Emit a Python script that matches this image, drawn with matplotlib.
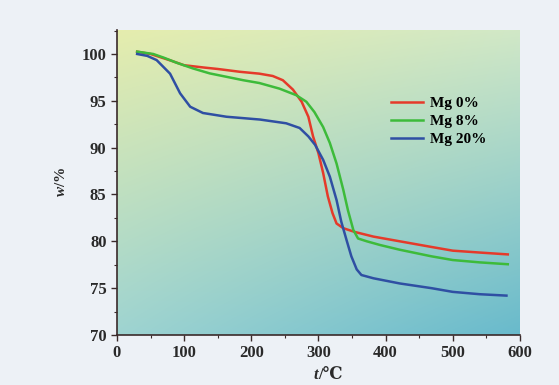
import numpy as np
import matplotlib
matplotlib.use("Agg")
import matplotlib.pyplot as plt
from matplotlib.ticker import MultipleLocator

plt.rcParams['font.family'] = ['Liberation Serif', 'DejaVu Serif']
plt.rcParams['mathtext.fontset'] = 'custom'
plt.rcParams['mathtext.it'] = 'Liberation Serif:italic:bold'
plt.rcParams['mathtext.rm'] = 'Liberation Serif:bold'

# TG curves: temperature (C) vs residual mass (%)
red_t = [30, 50, 80, 100, 130, 150, 183, 212, 232, 247, 262, 275, 285, 292,
         300, 307, 314, 321, 327, 337, 354, 382, 421, 468, 500, 540, 582]
red_w = [100.25, 100.0, 99.3, 98.8, 98.55, 98.4, 98.1, 97.9, 97.65, 97.2, 96.2,
         94.9, 93.3, 91.2, 89.4, 87.3, 84.8, 83.0, 81.9, 81.4, 81.0, 80.5,
         80.0, 79.4, 79.0, 78.8, 78.6]

green_t = [30, 54, 70, 89, 113, 138, 188, 212, 242, 267, 282, 294, 307, 317,
           327, 337, 344, 352, 359, 372, 392, 421, 468, 500, 540, 582]
green_w = [100.25, 100.0, 99.6, 99.06, 98.46, 97.93, 97.2, 96.9, 96.3, 95.6,
           94.9, 93.8, 92.2, 90.5, 88.3, 85.5, 83.3, 81.2, 80.3, 80.0, 79.6,
           79.1, 78.4, 78.0, 77.75, 77.55]

blue_t = [30, 45, 59, 79, 94, 109, 128, 163, 213, 252, 272, 285, 295, 307,
          317, 327, 334, 342, 349, 357, 364, 382, 421, 468, 500, 540, 580]
blue_w = [100.0, 99.8, 99.35, 97.9, 95.8, 94.37, 93.7, 93.3, 93.0, 92.6, 92.1,
          91.2, 90.3, 88.7, 86.9, 84.4, 82.1, 80.1, 78.4, 77.0, 76.4, 76.05,
          75.5, 75.0, 74.6, 74.35, 74.2]

labels = ['Mg 0%', 'Mg 8%', 'Mg 20%']
colors = ['#e53a2a', '#3dbb3a', '#2f4fa3']

fig = plt.figure(figsize=(5.59, 3.85), dpi=100, facecolor='#edf1f6')
ax = fig.add_axes([0.2093, 0.13, 0.7207, 0.793])

xmin, xmax, ymin, ymax = 0, 600, 70, 102.6

# diagonal background gradient (yellow-green top left -> blue bottom right)
tl = np.array([0.90, 0.93, 0.68])
tr = np.array([0.82, 0.91, 0.78])
bl = np.array([0.62, 0.83, 0.82])
br = np.array([0.41, 0.73, 0.80])
u = np.linspace(0, 1, 200)[None, :, None]
v = np.linspace(0, 1, 200)[:, None, None]
grad = (1 - v) * ((1 - u) * tl + u * tr) + v * ((1 - u) * bl + u * br)
ax.imshow(grad, extent=[xmin, xmax, ymin, ymax], aspect='auto',
          interpolation='bilinear', zorder=0)

for t, w, c, lab in zip([red_t, green_t, blue_t], [red_w, green_w, blue_w],
                        colors, labels):
    ax.plot(t, w, color=c, lw=1.8, label=lab, zorder=2)

ax.set_xlim(xmin, xmax)
ax.set_ylim(ymin, ymax)
ax.xaxis.set_major_locator(MultipleLocator(100))
ax.xaxis.set_minor_locator(MultipleLocator(50))
ax.yaxis.set_major_locator(MultipleLocator(5))
ax.yaxis.set_minor_locator(MultipleLocator(2.5))
ax.tick_params(which='major', direction='out', length=4, width=1,
               labelsize=12, colors='#3a2a2a')
ax.tick_params(which='minor', direction='out', length=2.5, width=0.8,
               colors='#3a2a2a')
for lbl in ax.get_xticklabels() + ax.get_yticklabels():
    lbl.set_fontweight('bold')
    lbl.set_color('#2a2a2a')

for s in ['top', 'right']:
    ax.spines[s].set_visible(False)
for s in ['left', 'bottom']:
    ax.spines[s].set_color('#3a2a2a')
    ax.spines[s].set_linewidth(1.2)

ax.set_ylabel('$w$/%', fontsize=11, fontweight='bold', color='#2a2a2a',
              labelpad=10)
# x label: italic t plus upright "/℃"
fig.text(318 / 559, 0.004, 't', fontsize=12, fontweight='bold',
         fontstyle='italic', color='#2a2a2a', ha='right', va='bottom')
fig.text(318 / 559, 0.004, '/\u2103', fontsize=12, fontweight='bold',
         color='#2a2a2a', ha='left', va='bottom')

leg = ax.legend(loc='upper left', bbox_to_anchor=(0.645, 0.827),
                frameon=False, prop={'weight': 'bold', 'size': 11},
                handlelength=2.15, handletextpad=0.4, labelspacing=0.3)

fig.savefig('out.png', dpi=100, facecolor=fig.get_facecolor())
